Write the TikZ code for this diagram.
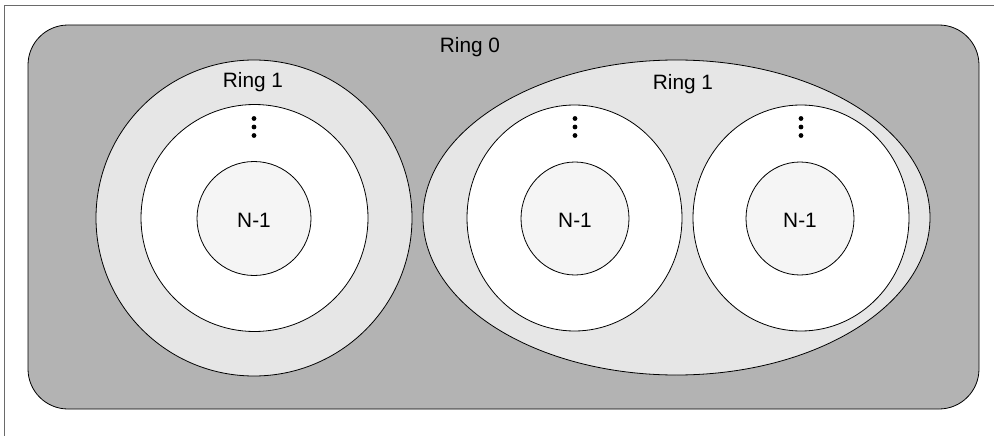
\documentclass[tikz,border=0pt]{standalone}
\usepackage{fontspec}
\setmainfont{Liberation Sans}
\begin{document}
\begin{tikzpicture}[x=1pt,y=-1pt,
  edge/.style={draw=black,line width=0.8pt},
  ringzero/.style={edge,fill=ringzeroc,rounded corners=40pt},
  ringone/.style={edge,fill=ringonec},
  midring/.style={edge,fill=white},
  coreringc/.style={edge,fill=corec},
  lbl/.style={font=\fontsize{20.8}{24}\selectfont,inner sep=0pt,text=black},
  dotc/.style={fill=black}
]
\definecolor{ringzeroc}{HTML}{B3B3B3}
\definecolor{ringonec}{HTML}{E6E6E6}
\definecolor{corec}{HTML}{F5F5F5}
\definecolor{framec}{HTML}{6A6A6A}
\useasboundingbox (0,0) rectangle (994,436);
% outer frame (partially visible)
\draw[framec,line width=1.5pt] (4.7,436) -- (4.7,5.5) -- (994,5.5);
% Ring 0
\path[ringzero] (28,25) rectangle (979,409);
\node[lbl] (r0) at (470,47) {Ring 0};
% left Ring 1
\path[ringone] (254,218) circle[radius=158];
\path[midring] (254.5,218) circle[radius=113.5];
\path[coreringc] (254,218.5) circle[radius=57];
\node[lbl] (r1a) at (253,82) {Ring 1};
\node[lbl] (na) at (254,220) {N-1};
% right Ring 1
\path[ringone] (676.5,217.5) ellipse[x radius=253.5,y radius=157.5];
\path[midring] (574.5,218) ellipse[x radius=107.5,y radius=113];
\path[coreringc] (575,218.5) ellipse[x radius=54,y radius=56.5];
\path[midring] (801,218) ellipse[x radius=108,y radius=113];
\path[coreringc] (800,218.5) ellipse[x radius=54,y radius=56.5];
\node[lbl] (r1b) at (683,84) {Ring 1};
\node[lbl] (nb) at (575,220) {N-1};
\node[lbl] (nc) at (800,220) {N-1};
% vertical ellipses
\foreach \cx in {254,575,801}{
  \foreach \cy in {118.5,127,135.5}{
    \fill[dotc] (\cx,\cy) circle[radius=2.4];
  }
}
\end{tikzpicture}
\end{document}
